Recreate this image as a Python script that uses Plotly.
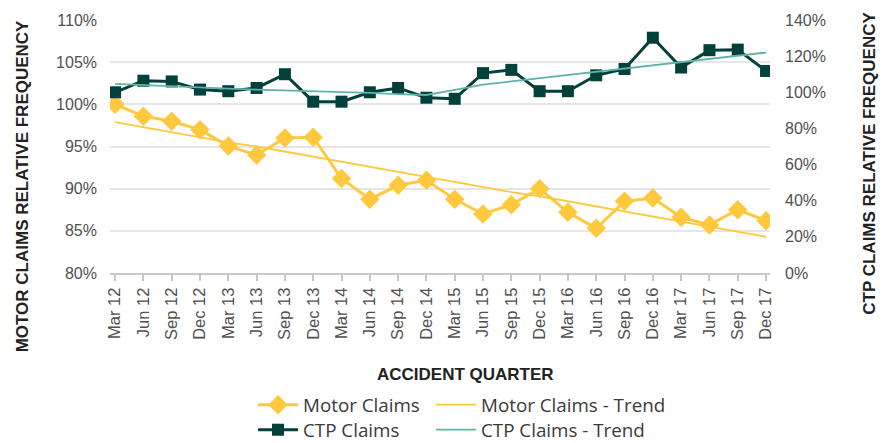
import plotly.graph_objects as go

quarters = ["Mar 12", "Jun 12", "Sep 12", "Dec 12", "Mar 13", "Jun 13", "Sep 13", "Dec 13",
            "Mar 14", "Jun 14", "Sep 14", "Dec 14", "Mar 15", "Jun 15", "Sep 15", "Dec 15",
            "Mar 16", "Jun 16", "Sep 16", "Dec 16", "Mar 17", "Jun 17", "Sep 17", "Dec 17"]

motor_claims = [100.0, 98.6, 98.0, 97.0, 95.05, 94.0, 96.0, 96.1,
                91.2, 88.75, 90.4, 91.0, 88.75, 87.0, 88.1, 90.0,
                87.2, 85.3, 88.5, 88.9, 86.6, 85.7, 87.5, 86.2]

motor_trend = [97.9, 97.3, 96.7, 96.1, 95.5, 95.0, 94.4, 93.8,
               93.2, 92.6, 92.0, 91.4, 90.8, 90.2, 89.6, 89.1,
               88.5, 87.9, 87.3, 86.7, 86.1, 85.5, 84.9, 84.3]

ctp_claims = [100.0, 106.4, 106.0, 101.5, 100.6, 102.4, 110.0, 94.8,
              94.8, 100.0, 102.4, 97.0, 96.4, 110.6, 112.4, 100.6,
              100.6, 109.4, 112.9, 130.2, 113.7, 123.3, 123.6, 111.8]

ctp_trend = [104.6, 103.9, 103.1, 102.4, 102.0, 101.5, 101.1, 100.6,
             100.2, 99.7, 99.0, 98.5, 101.4, 104.3, 106.0, 107.8,
             109.5, 111.3, 113.1, 114.9, 116.7, 118.4, 120.2, 122.0]

left_ticks = [80, 85, 90, 95, 100, 105, 110]
right_ticks = [0, 20, 40, 60, 80, 100, 120, 140]

YELLOW = "#FFC83D"
DARK = "#02403B"
TEAL = "#5FB3A8"
TICK_FONT = dict(family="Liberation Sans", size=16, color="#505050")
XTICK_FONT = dict(family="Liberation Sans", size=16.5, color="#505050")
LEG_FONT = dict(family="Open Sans", size=18.8, color="#3A3A3A")
TITLE_FONT = dict(family="Liberation Sans", size=17, color="#222222")

fig = go.Figure()
fig.add_trace(go.Scatter(x=quarters, y=motor_claims, name="Motor Claims", mode="lines+markers",
                         line=dict(color=YELLOW, width=3),
                         marker=dict(symbol="diamond", size=15, color=YELLOW),
                         legend="legend"))
fig.add_trace(go.Scatter(x=quarters, y=motor_trend, name="Motor Claims - Trend", mode="lines",
                         line=dict(color=YELLOW, width=1.8), legend="legend2"))
fig.add_trace(go.Scatter(x=quarters, y=ctp_claims, name="CTP Claims", mode="lines+markers",
                         line=dict(color=DARK, width=3),
                         marker=dict(symbol="square", size=12, color=DARK),
                         yaxis="y2", legend="legend3"))
fig.add_trace(go.Scatter(x=quarters, y=ctp_trend, name="CTP Claims - Trend", mode="lines",
                         line=dict(color=TEAL, width=1.8), yaxis="y2", legend="legend4"))


def leg(xpx, ypx):
    return dict(orientation="h", xref="container", yref="container",
                x=xpx / 890, y=1 - ypx / 443, xanchor="left", yanchor="middle",
                font=LEG_FONT, itemwidth=40, bgcolor="rgba(0,0,0,0)", borderwidth=0)


fig.update_layout(
    width=890, height=443,
    margin=dict(l=110, r=120, t=16, b=170),
    plot_bgcolor="white", paper_bgcolor="white",
    showlegend=True,
    xaxis=dict(type="category", range=[-0.18, 23.14], showgrid=False,
               showline=True, linecolor="#C8C8C8", linewidth=2,
               ticks="outside", ticklen=6, tickcolor="#C8C8C8", tickwidth=1.5,
               tickangle=-90, tickfont=XTICK_FONT),
    yaxis=dict(range=[80, 110], tickvals=left_ticks, ticktext=[f"{v}%" for v in left_ticks],
               showgrid=True, gridcolor="#E6E6E6", gridwidth=2, zeroline=False,
               tickfont=TICK_FONT, ticks="", showline=False, ticklabelstandoff=12),
    yaxis2=dict(range=[0, 140], tickvals=right_ticks, ticktext=[f"{v}%" for v in right_ticks],
                overlaying="y", side="right", showgrid=False, zeroline=False,
                tickfont=TICK_FONT, ticks="", showline=False, ticklabelstandoff=14),
    legend=leg(253, 405),
    legend2=leg(431, 405),
    legend3=leg(253, 430),
    legend4=leg(431, 430),
)

fig.add_annotation(text="<b>MOTOR CLAIMS RELATIVE FREQUENCY</b>", textangle=-90,
                   xref="paper", yref="paper", x=(22-110)/660, y=1-(185-16)/257,
                   xanchor="center", yanchor="middle", showarrow=False, font=TITLE_FONT)
fig.add_annotation(text="<b>CTP CLAIMS RELATIVE FREQUENCY</b>", textangle=-90,
                   xref="paper", yref="paper", x=(870-110)/660, y=1-(162-16)/257,
                   xanchor="center", yanchor="middle", showarrow=False, font=TITLE_FONT)
fig.add_annotation(text="<b>ACCIDENT QUARTER</b>",
                   xref="paper", yref="paper", x=(465-110)/660, y=1-(376-16)/257,
                   xanchor="center", yanchor="middle", showarrow=False, font=TITLE_FONT)

fig.write_html("out.html", config={"displayModeBar": False},
               post_script="document.body.style.margin='0px';")
